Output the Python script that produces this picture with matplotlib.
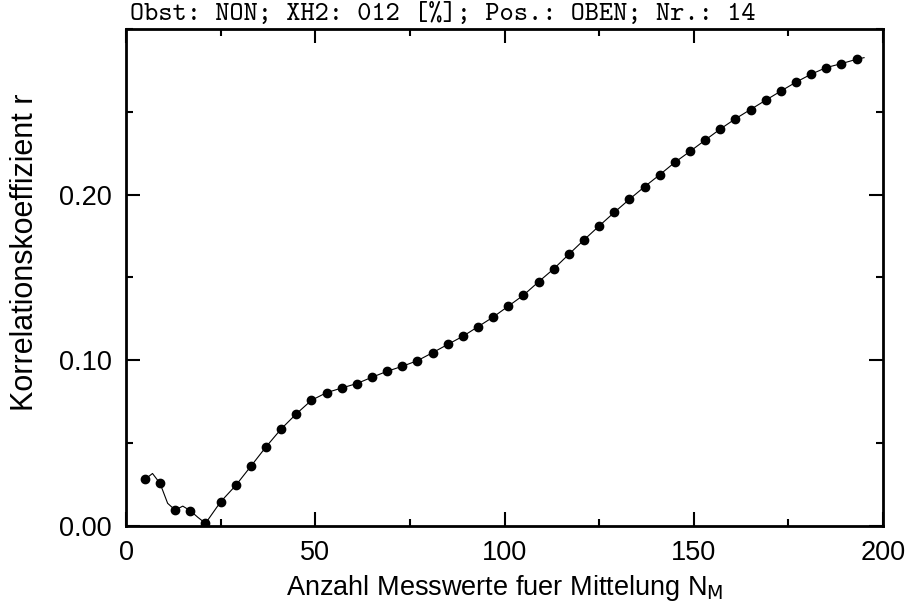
import matplotlib
matplotlib.use("Agg")
import matplotlib.pyplot as plt
from matplotlib.ticker import MultipleLocator, FormatStrFormatter

# Messpunkte (jeder 4. Wert, mit Punkt markiert)
n_punkte = [5, 9, 13, 17, 21, 25, 29, 33, 37, 41, 45, 49, 53, 57, 61, 65,
            69, 73, 77, 81, 85, 89, 93, 97, 101, 105, 109, 113, 117, 121,
            125, 129, 133, 137, 141, 145, 149, 153, 157, 161, 165, 169, 173,
            177, 181, 185, 189, 193]
r_punkte = [0.0281, 0.0257, 0.0096, 0.0092, 0.0016, 0.0146, 0.0245, 0.0361,
            0.0478, 0.0586, 0.0677, 0.0759, 0.0805, 0.0833, 0.0860, 0.0898,
            0.0934, 0.0964, 0.0998, 0.1046, 0.1096, 0.1145, 0.1203, 0.1261,
            0.1327, 0.1393, 0.1474, 0.1552, 0.1640, 0.1727, 0.1811, 0.1893,
            0.1972, 0.2048, 0.2120, 0.2195, 0.2261, 0.2329, 0.2396, 0.2458,
            0.2514, 0.2570, 0.2625, 0.2679, 0.2727, 0.2767, 0.2791, 0.2817]

# Zwischenwerte der Kurve (Anfang und Ende)
n_zwischen = [7, 11, 15, 19, 195]
r_zwischen = [0.0317, 0.0137, 0.0120, 0.0052, 0.2827]

titel = "Obst: NON; XH2: 012 [%]; Pos.: OBEN; Nr.: 14"

kurve = sorted(zip(n_punkte + n_zwischen, r_punkte + r_zwischen))
n_linie = [p[0] for p in kurve]
r_linie = [p[1] for p in kurve]

plt.rcParams['font.family'] = ['Liberation Sans', 'DejaVu Sans']

fig = plt.figure(figsize=(9.07, 6.03), dpi=100)
ax = fig.add_axes([126 / 907, 1 - 526 / 603, (883 - 126) / 907, (526 - 29) / 603])

ax.plot(n_linie, r_linie, color='black', linewidth=0.8)
ax.plot(n_punkte, r_punkte, linestyle='none', marker='o', color='black', markersize=6)

ax.set_xlim(0, 200)
ax.set_ylim(0, 0.30)
ax.xaxis.set_major_locator(MultipleLocator(50))
ax.xaxis.set_minor_locator(MultipleLocator(25))
ax.yaxis.set_major_locator(MultipleLocator(0.10))
ax.yaxis.set_minor_locator(MultipleLocator(0.05))
ax.yaxis.set_major_formatter(FormatStrFormatter('%.2f'))
ax.set_yticks([0.0, 0.1, 0.2])

ax.tick_params(which='both', direction='in', top=True, right=True, labelsize=19.5, width=1.5)
ax.tick_params(which='major', length=10, pad=10)
ax.tick_params(which='minor', length=5)
for s in ax.spines.values():
    s.set_linewidth(2)

ax.set_xlabel("Anzahl Messwerte fuer Mittelung N$_\\mathrm{M}$", fontsize=19.5, labelpad=5)
ax.set_ylabel("Korrelationskoeffizient r", fontsize=22)
ax.yaxis.set_label_coords(-0.114, 0.55)

fig.text(130 / 907, 1 - 14 / 603, titel, family='cmtt10', fontsize=19.5, ha='left', va='center')

fig.savefig("out.png", dpi=100)
